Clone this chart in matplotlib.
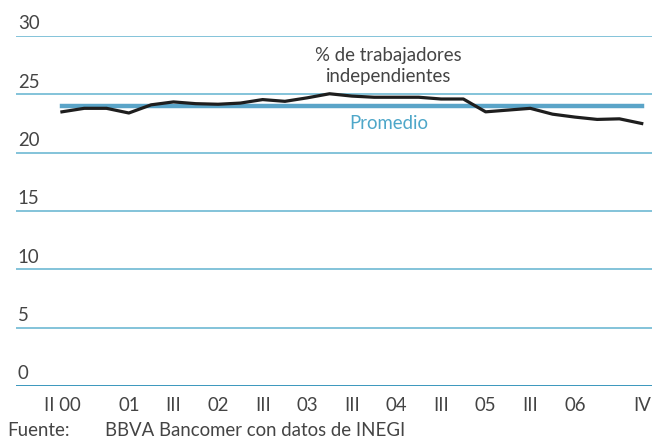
import numpy as np
import matplotlib.pyplot as plt
from matplotlib.transforms import blended_transform_factory

plt.rcParams['font.family'] = ['Lato', 'DejaVu Sans']

# quarterly share of independent workers, 2000 II to 2006 IV
pct = [23.5, 23.8, 23.8, 23.4, 24.1, 24.35, 24.2, 24.15, 24.25, 24.55,
       24.4, 24.7, 25.05, 24.85, 24.75, 24.75, 24.75, 24.6, 24.6, 23.5,
       23.65, 23.8, 23.3, 23.05, 22.85, 22.9, 22.5]
promedio = 24.0
xtick_pos = [0, 3, 5, 7, 9, 11, 13, 15, 17, 19, 21, 23, 26]
xtick_lab = ['II 00', '01', 'III', '02', 'III', '03', 'III', '04', 'III',
             '05', 'III', '06', 'IV']
yticks = [0, 5, 10, 15, 20, 25, 30]

x = np.arange(len(pct))
txt_c = '#444444'
fs = 13.4

fig = plt.figure(figsize=(6.52, 4.41), dpi=100)
ax = fig.add_axes([16 / 652, 55 / 441, 636 / 652, 350 / 441])

grid_c = '#62b3cf'
for v in yticks[1:]:
    ax.axhline(v, color=grid_c, lw=1.1, zorder=1)
ax.axhline(0, color='#2b8fb8', lw=1.3, zorder=1)

ax.plot([x[0], x[-1]], [promedio, promedio], color='#5aa4c8', lw=3.2, zorder=2)
ax.plot(x, pct, color='#1e1e1e', lw=2.3, zorder=3)

ax.set_xlim(-2.06, 26.46)
ax.set_ylim(0, 30)
for s in ax.spines.values():
    s.set_visible(False)
ax.set_yticks([])
ax.set_xticks(xtick_pos)
ax.set_xticklabels(xtick_lab, fontsize=fs, color=txt_c)
ax.tick_params(axis='x', length=0, pad=8)

trans = blended_transform_factory(ax.transAxes, ax.transData)
for v in yticks:
    ax.text(0.003, v + 0.57, str(v), transform=trans, fontsize=fs,
            color=txt_c, ha='left', va='baseline')

ax.text(14.65, 27.45, '% de trabajadores\nindependientes', ha='center',
        va='center', fontsize=fs, color=txt_c, linespacing=1.32)
ax.text(14.65, 22.5, 'Promedio', ha='center', va='center', fontsize=fs,
        color='#4ea7c9')

fig.text(7 / 652, 1 - 431 / 441, 'Fuente:', ha='left', va='center',
         fontsize=fs, color=txt_c)
fig.text(105 / 652, 1 - 431 / 441, 'BBVA Bancomer con datos de INEGI',
         ha='left', va='center', fontsize=fs, color=txt_c)

fig.savefig('out.png', dpi=100)
